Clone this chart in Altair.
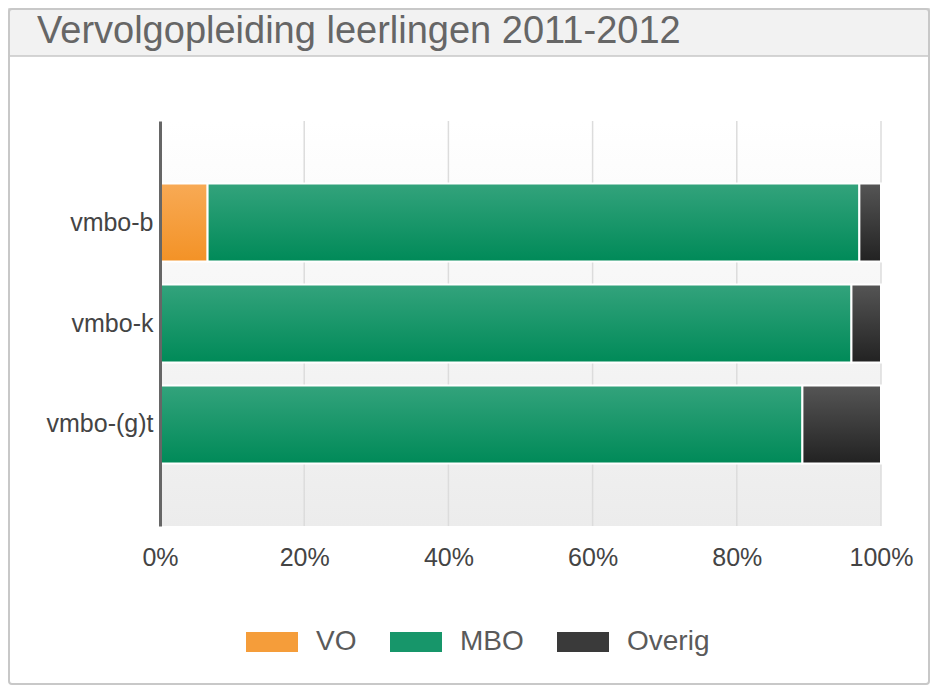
import altair as alt
import pandas as pd

categories = ["vmbo-b", "vmbo-k", "vmbo-(g)t"]
series = ["VO", "MBO", "Overig"]
vo_values = [6.6, 0.0, 0.0]
mbo_values = [90.4, 95.9, 89.1]
overig_values = [3.0, 4.1, 10.9]
x_ticks = [0, 20, 40, 60, 80, 100]
title_text = "Vervolgopleiding leerlingen 2011-2012"

rows = []
for i, c in enumerate(categories):
    for j, (s, vals) in enumerate(zip(series, [vo_values, mbo_values, overig_values])):
        rows.append({"cat": c, "series": s, "order": j, "value": vals[i]})
df = pd.DataFrame(rows)
ticks_df = pd.DataFrame({"t": x_ticks[1:]})

W, H = 721, 405
PAD_L, PAD_T = 152, 113
PAD_R = 922 - PAD_L - W
PAD_B = 677 - PAD_T - H

def vgrad(top, bottom):
    return alt.LinearGradient(
        gradient="linear",
        stops=[alt.GradientStop(offset=0, color=top), alt.GradientStop(offset=1, color=bottom)],
        x1=0, x2=0, y1=0, y2=1,
    )

gradients = {
    "VO": vgrad("#f8aa55", "#f39226"),
    "MBO": vgrad("#33a37c", "#008a58"),
    "Overig": vgrad("#555555", "#222222"),
}
solid = ["#f59d3a", "#17966a", "#3a3a3a"]

frame_df = pd.DataFrame({"a": [0]})
frame = alt.Chart(frame_df).mark_rect(
    fill="transparent", stroke="#c8c8c8", strokeWidth=2, cornerRadius=3
).encode(
    x=alt.value(-PAD_L + 1), x2=alt.value(W + PAD_R - 1),
    y=alt.value(-PAD_T + 1), y2=alt.value(H + PAD_B - 1),
)
title_bar = alt.Chart(frame_df).mark_rect(
    fill="#f2f2f2", stroke="#c8c8c8", strokeWidth=1.5
).encode(
    x=alt.value(-PAD_L + 1), x2=alt.value(W + PAD_R - 1),
    y=alt.value(-PAD_T + 1), y2=alt.value(56 - 8 - PAD_T),
)
plot_bg = alt.Chart(frame_df).mark_rect(fill=vgrad("#ffffff", "#ececec")).encode(
    x=alt.value(0), x2=alt.value(W), y=alt.value(0), y2=alt.value(H)
)

xscale = alt.Scale(domain=[0, 100], nice=False)
yscale = alt.Scale(domain=categories, paddingInner=0.228, paddingOuter=0.62)

xaxis = alt.Axis(
    values=x_ticks, labelExpr="datum.value + '%'", title=None, grid=False,
    domain=False, ticks=False,
    labelFontSize=25, labelColor="#444444", labelFont="Liberation Sans",
    labelPadding=19, labelFlush=False,
)
yaxis = alt.Axis(
    title=None, domain=True, domainColor="#666666", domainWidth=3, ticks=False,
    labelFontSize=25, labelColor="#444444", labelFont="Liberation Sans", labelPadding=7,
    grid=False, zindex=1,
)

grid = alt.Chart(ticks_df).mark_rule(color="#dcdcdc", strokeWidth=1.5).encode(
    x=alt.X("t:Q", scale=xscale, axis=xaxis)
)

base = alt.Chart(df).transform_stack(
    stack="value", groupby=["cat"], as_=["x0", "x1"], sort=[alt.SortField("order", order="ascending")]
)

legend_bars = base.mark_bar().encode(
    x=alt.X("x0:Q", scale=xscale, axis=xaxis),
    x2="x1:Q",
    y=alt.Y("cat:N", scale=yscale, axis=yaxis),
    color=alt.Color(
        "series:N",
        scale=alt.Scale(domain=series, range=solid),
        legend=alt.Legend(
            title=None, orient="none", direction="horizontal",
            legendX=86, legendY=495, padding=0,
            symbolType="M-1,-0.385H1V0.385H-1Z", symbolSize=2704,
            symbolStrokeWidth=0, symbolOpacity=1,
            labelFontSize=28, labelColor="#5a5a5a", labelFont="Liberation Sans",
            labelOffset=18, columnPadding=33, labelLimit=200,
        ),
    ),
)

layers = [title_bar, frame, plot_bg, grid, legend_bars]
for s in series:
    layers.append(
        base.transform_filter(alt.datum.series == s)
        .transform_filter(alt.datum.value > 0)
        .mark_bar(fill=gradients[s], stroke="white", strokeWidth=2)
        .encode(x=alt.X("x0:Q", scale=xscale, axis=xaxis), x2="x1:Q",
                y=alt.Y("cat:N", scale=yscale, axis=yaxis))
    )

chart = alt.layer(*layers).properties(
    width=W, height=H,
    padding={"left": PAD_L, "top": PAD_T, "right": PAD_R, "bottom": PAD_B},
    autosize=alt.AutoSizeParams(type="none"),
    title=alt.TitleParams(
        title_text, anchor="start", frame="group", orient="none",
        dx=-123, dy=-78, fontSize=38, font="Liberation Sans", fontWeight="normal",
        color="#666666", baseline="alphabetic",
    ),
).configure_view(stroke=None)

chart.save("out.html", embed_options={"renderer": "svg", "actions": False})
